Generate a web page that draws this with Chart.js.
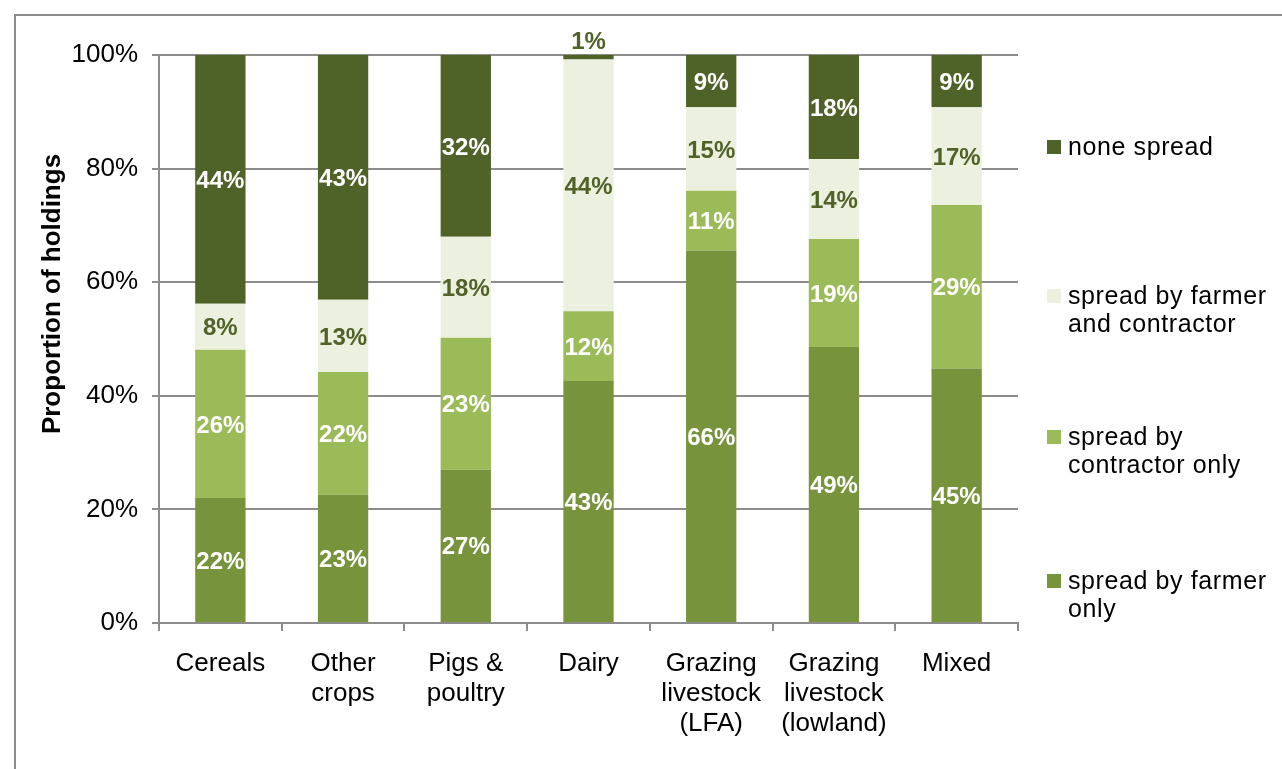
<!DOCTYPE html>
<html>
<head>
<meta charset="utf-8">
<script src="https://cdn.jsdelivr.net/npm/chart.js@4/dist/chart.umd.min.js"></script>
<style>
  html, body { margin: 0; padding: 0; background: #fff; }
  #wrap { position: relative; width: 1282px; height: 769px; }
  #frame { position: absolute; left: 14px; top: 14px; right: -2px; bottom: -2px; border-left: 2px solid #8c8c8c; border-top: 2px solid #8c8c8c; }
  canvas { position: absolute; left: 0; top: 0; }
</style>
</head>
<body>
<div id="wrap">
  <div id="frame"></div>
  <canvas id="chart" width="1282" height="769"></canvas>
</div>
<script>
// categories and series (bottom to top of each stack), percent of holdings
const categories = [
    'Cereals', ['Other', 'crops'], ['Pigs &', 'poultry'], 'Dairy',
    ['Grazing', 'livestock', '(LFA)'], ['Grazing', 'livestock', '(lowland)'], 'Mixed'
];
const farmerOnly     = [22.0, 22.6, 27.0, 42.6, 65.6, 48.6, 44.8];
const contractorOnly = [26.1, 21.6, 23.2, 12.3, 10.5, 19.0, 28.8];
const farmerAndContr = [8.1, 12.7, 17.8, 44.3, 14.7, 14.1, 17.2];
const noneSpread     = [43.8, 43.1, 32.0, 0.8, 9.2, 18.3, 9.2];
const yTicks = [0, 20, 40, 60, 80, 100];
const yTitle = 'Proportion of holdings';

const seriesNames = ['spread by farmer only', 'spread by contractor only', 'spread by farmer and contractor', 'none spread'];
const legendLines = {
    'none spread': ['none spread'],
    'spread by farmer and contractor': ['spread by farmer', 'and contractor'],
    'spread by contractor only': ['spread by', 'contractor only'],
    'spread by farmer only': ['spread by farmer', 'only']
};

const FONT = '"Liberation Sans", Arial, sans-serif';
const darkGreen = '#4F6228';
const colors = ['#77933C', '#9BBB59', '#EBF1DE', '#4F6228'];
const labelColors = ['#ffffff', '#ffffff', darkGreen, '#ffffff'];

// segment labels drawn at the middle of each bar piece
const segmentLabels = {
    id: 'segmentLabels',
    afterDatasetsDraw(chart) {
        const ctx = chart.ctx;
        ctx.save();
        ctx.font = 'bold 24px ' + FONT;
        ctx.textAlign = 'center';
        ctx.textBaseline = 'middle';
        chart.data.datasets.forEach((ds, i) => {
            const meta = chart.getDatasetMeta(i);
            meta.data.forEach((bar, j) => {
                const v = ds.data[j];
                const txt = Math.round(v) + '%';
                if (v < 3) {
                    ctx.fillStyle = darkGreen;
                    ctx.fillText(txt, bar.x, bar.y - 13);
                } else {
                    ctx.fillStyle = labelColors[i];
                    ctx.fillText(txt, bar.x, (bar.y + bar.base) / 2 + 2);
                }
            });
        });
        ctx.restore();
    }
};

// y title (sits a bit above the axis middle, as in the original)
const axisTitle = {
    id: 'axisTitle',
    afterDraw(chart) {
        const ctx = chart.ctx;
        ctx.save();
        ctx.translate(53, 294);
        ctx.rotate(-Math.PI / 2);
        ctx.font = 'bold 26px ' + FONT;
        ctx.fillStyle = '#000';
        ctx.textAlign = 'center';
        ctx.textBaseline = 'middle';
        ctx.fillText(yTitle, 0, 0);
        ctx.restore();
    }
};

// legend on the right, items listed top to bottom in reverse stack order
const sideLegend = {
    id: 'sideLegend',
    afterDraw(chart) {
        const ctx = chart.ctx;
        const ys = [148, 297, 438, 582];
        ctx.save();
        ctx.font = '25px ' + FONT;
        ctx.letterSpacing = '0.6px';
        ctx.textBaseline = 'middle';
        ctx.textAlign = 'left';
        const order = chart.data.datasets.slice().reverse();
        order.forEach((ds, k) => {
            const y = ys[k];
            ctx.fillStyle = ds.backgroundColor;
            ctx.fillRect(1047, y - 8, 14, 14);
            ctx.fillStyle = '#000';
            legendLines[ds.label].forEach((line, n) => {
                ctx.fillText(line, 1068, y + n * 28);
            });
        });
        ctx.restore();
    }
};

const seriesData = [farmerOnly, contractorOnly, farmerAndContr, noneSpread];

new Chart(document.getElementById('chart').getContext('2d'), {
    type: 'bar',
    data: {
        labels: categories,
        datasets: seriesData.map((d, i) => ({
            label: seriesNames[i],
            data: d,
            backgroundColor: colors[i],
            borderWidth: 0,
            barPercentage: 0.41,
            categoryPercentage: 1.0
        }))
    },
    options: {
        responsive: false,
        animation: false,
        layout: { padding: { left: 0, top: 55, right: 264, bottom: 0 } },
        plugins: {
            legend: { display: false },
            tooltip: { enabled: false }
        },
        scales: {
            x: {
                stacked: true,
                grid: { offset: true, drawOnChartArea: false, color: '#8c8c8c', lineWidth: 2, tickLength: 8 },
                border: { color: '#8c8c8c', width: 2 },
                ticks: {
                    color: '#000',
                    padding: 18,
                    maxRotation: 0,
                    autoSkip: false,
                    font: { family: FONT, size: 26, lineHeight: 1.15 }
                },
                afterFit: s => { s.height = 146; }
            },
            y: {
                stacked: true,
                min: 0,
                max: 100,
                afterBuildTicks: s => { s.ticks = yTicks.map(v => ({ value: v })); },
                grid: { color: '#8c8c8c', lineWidth: 2, tickLength: 7 },
                border: { color: '#8c8c8c', width: 2 },
                ticks: {
                    color: '#000',
                    padding: 14,
                    callback: v => v + '%',
                    font: { family: FONT, size: 26 }
                },
                afterFit: s => { s.width = 159; }
            }
        }
    },
    plugins: [segmentLabels, axisTitle, sideLegend]
});
</script>
</body>
</html>
